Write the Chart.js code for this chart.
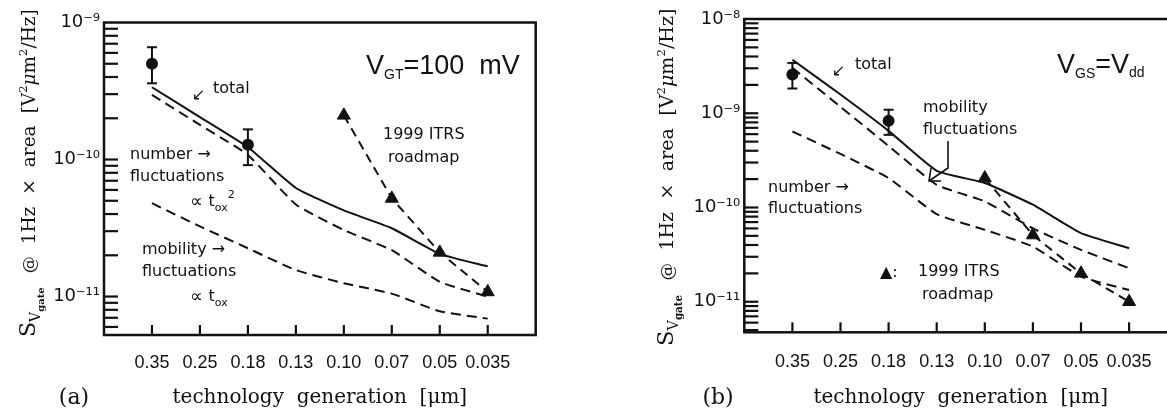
<!DOCTYPE html>
<html>
<head>
<meta charset="utf-8">
<script src="https://cdn.jsdelivr.net/npm/chart.js@4.4.1/dist/chart.umd.min.js"></script>
<style>
html, body { margin: 0; padding: 0; background: #fff; overflow: hidden; width: 1167px; height: 415px; }
.panel { position: absolute; top: 0; }
#wrapA { left: 0; }
#wrapB { left: 580px; }
</style>
</head>
<body>
<div id="wrapA" class="panel"><canvas id="chartA" width="560" height="415"></canvas></div>
<div id="wrapB" class="panel"><canvas id="chartB" width="620" height="415"></canvas></div>
<script>
const categories = ["0.35", "0.25", "0.18", "0.13", "0.10", "0.07", "0.05", "0.035"];

/* panel (a) : V_GT = 100 mV */
const yTicksA = [1e-11, 1e-10, 1e-9];
const totalA = [3.37e-10, 2.04e-10, 1.23e-10, 6.2e-11, 4.25e-11, 3.15e-11, 2.05e-11, 1.66e-11];
const numberA = [2.96e-10, 1.79e-10, 1.08e-10, 4.7e-11, 3.06e-11, 2.18e-11, 1.28e-11, 1.0e-11];
const mobilityA = [4.8e-11, 3.25e-11, 2.25e-11, 1.56e-11, 1.25e-11, 1.05e-11, 7.8e-12, 6.9e-12];
const itrsA = [null, null, null, null, 2.1e-10, 5.2e-11, 2.1e-11, 1.08e-11];
const measA = [5.0e-10, null, 1.28e-10, null, null, null, null, null];
const measLoA = [3.6e-10, null, 9.1e-11, null, null, null, null, null];
const measHiA = [6.6e-10, null, 1.66e-10, null, null, null, null, null];

/* panel (b) : V_GS = V_dd */
const yTicksB = [1e-11, 1e-10, 1e-9, 1e-8];
const totalB = [3.7e-9, 1.58e-9, 6.5e-10, 2.45e-10, 1.82e-10, 1.07e-10, 5.35e-11, 3.7e-11];
const mobilityB = [3.03e-9, 1.17e-9, 4.5e-10, 1.74e-10, 1.16e-10, 6.0e-11, 3.55e-11, 2.27e-11];
const numberB = [6.4e-10, 3.7e-10, 2.05e-10, 8.5e-11, 5.8e-11, 3.85e-11, 1.85e-11, 1.33e-11];
const itrsB = [null, null, null, null, 2.05e-10, 5.1e-11, 2.0e-11, 1.0e-11];
const measB = [2.57e-9, null, 8.3e-10, null, null, null, null, null];
const measLoB = [1.83e-9, null, 5.9e-10, null, null, null, null, null];
const measHiB = [3.42e-9, null, 1.09e-9, null, null, null, null, null];

const INK = "#111";
const SANS = "'DejaVu Sans', sans-serif";
const SERIF = "'DejaVu Serif', serif";

/* 10^n with unicode superscripts */
const SUP = {"-": "\u207B", "0": "\u2070", "1": "\u00B9", "2": "\u00B2", "3": "\u00B3", "4": "\u2074",
             "5": "\u2075", "6": "\u2076", "7": "\u2077", "8": "\u2078", "9": "\u2079"};
function decadeLabel(v) {
    const e = Math.log10(v);
    if (Math.abs(e - Math.round(e)) > 1e-6) return "";
    return "10" + String(Math.round(e)).split("").map(c => SUP[c]).join("");
}

/* draw a run of text pieces (sub/superscripts) left to right */
function rich(ctx, x, y, parts, family) {
    let cx = x;
    parts.forEach(p => {
        ctx.font = `${p.style || ""} ${p.w || "normal"} ${p.s}px ${p.f || family || SANS}`;
        ctx.fillText(p.t, cx, y + (p.dy || 0));
        cx += ctx.measureText(p.t).width + (p.gap || 0);
    });
    return cx;
}

function yTitle(ctx, bx, by, k) {
    ctx.save();
    ctx.translate(bx, by);
    ctx.rotate(-Math.PI / 2);
    ctx.textAlign = "left";
    ctx.textBaseline = "alphabetic";
    rich(ctx, 0, 0, [
        {t: "S", s: 22 * k},
        {t: "V", s: 14 * k, dy: 5 * k},
        {t: "gate", s: 10 * k, dy: 9 * k, w: "bold", gap: 14 * k},
        {t: "@", s: 17 * k, gap: 12 * k},
        {t: "1Hz", s: 18.5 * k, gap: 12 * k},
        {t: "\u00D7", s: 18.5 * k, gap: 12 * k},
        {t: "area", s: 18.5 * k, gap: 12 * k},
        {t: "[V", s: 18.5 * k},
        {t: "2", s: 11.5 * k, dy: -8 * k},
        {t: "\u03BC", s: 18.5 * k, style: "italic"},
        {t: "m", s: 18.5 * k},
        {t: "2", s: 11.5 * k, dy: -8 * k},
        {t: "/Hz]", s: 18.5 * k}
    ], SERIF);
    ctx.restore();
}

function line(ctx, x1, y1, x2, y2) {
    ctx.beginPath();
    ctx.moveTo(x1, y1);
    ctx.lineTo(x2, y2);
    ctx.stroke();
}

/* frame, inward ticks, error bars and the hand placed notes */
function makePaper(spec) {
    return {
        id: "paper",
        afterDatasetsDraw(chart) {
            const {ctx, chartArea: a, scales: {x, y}} = chart;
            ctx.save();
            ctx.strokeStyle = INK;
            ctx.lineWidth = 2.5;
            ctx.strokeRect(a.left, a.top, a.right - a.left, a.bottom - a.top);

            ctx.lineWidth = 2.2;
            categories.forEach((c, i) => {
                const px = x.getPixelForValue(i);
                line(ctx, px, a.bottom, px, a.bottom - 10);
            });
            for (let e = Math.floor(Math.log10(y.min)); e <= Math.ceil(Math.log10(y.max)); e++) {
                for (let k = 1; k <= 9; k++) {
                    const v = k * Math.pow(10, e);
                    if (v < y.min * 1.001 || v > y.max * 0.999) continue;
                    const py = y.getPixelForValue(v);
                    line(ctx, a.left, py, a.left + 14, py);
                }
            }

            ctx.lineWidth = 2;
            spec.lo.forEach((lo, i) => {
                if (lo == null) return;
                const px = x.getPixelForValue(i);
                const y1 = y.getPixelForValue(lo);
                const y2 = y.getPixelForValue(spec.hi[i]);
                line(ctx, px, y1, px, y2);
                line(ctx, px - 5, y1, px + 5, y1);
                line(ctx, px - 5, y2, px + 5, y2);
            });
            ctx.restore();
        },
        afterDraw(chart) {
            const ctx = chart.ctx;
            ctx.save();
            ctx.fillStyle = INK;
            ctx.strokeStyle = INK;
            yTitle(ctx, spec.titleX, spec.titleY, spec.titleK);
            ctx.textAlign = "center";
            ctx.textBaseline = "middle";
            ctx.font = `22px ${SERIF}`;
            ctx.fillText(spec.tag, spec.tagX, 398);
            ctx.textAlign = "left";
            spec.notes(ctx);
            ctx.restore();
        }
    };
}

function notesA(ctx) {
    ctx.textBaseline = "middle";
    ctx.font = `16px ${SANS}`;
    ctx.fillText("\u2199", 192, 96);
    ctx.fillText("total", 213, 89);
    ctx.fillText("number \u2192", 130, 155);
    ctx.fillText("fluctuations", 130, 177);
    rich(ctx, 190, 202, [{t: "\u221D ", s: 18}, {t: "t", s: 16}, {t: "ox", s: 11, dy: 6}, {t: "2", s: 11, dy: -7}]);
    ctx.font = `16px ${SANS}`;
    ctx.fillText("mobility \u2192", 142, 250);
    ctx.fillText("fluctuations", 142, 272);
    rich(ctx, 190, 297, [{t: "\u221D ", s: 18}, {t: "t", s: 16}, {t: "ox", s: 11, dy: 6}]);
    ctx.font = `16px ${SANS}`;
    ctx.fillText("1999 ITRS", 383, 135);
    ctx.fillText("roadmap", 388, 158);
    ctx.textBaseline = "alphabetic";
    rich(ctx, 366, 74, [{t: "V", s: 27}, {t: "GT", s: 14, dy: 5}, {t: "=100  mV", s: 27}], "'Liberation Sans', sans-serif");
}

function notesB(ctx) {
    ctx.textBaseline = "middle";
    ctx.font = `16px ${SANS}`;
    ctx.fillText("\u2199", 252, 72);
    ctx.fillText("total", 275, 65);
    ctx.fillText("mobility", 343, 108);
    ctx.fillText("fluctuations", 343, 130);
    ctx.fillText("number \u2192", 188, 188);
    ctx.fillText("fluctuations", 188, 209);
    ctx.fillText("\u25B2:", 300, 273);
    ctx.fillText("1999 ITRS", 338, 272);
    ctx.fillText("roadmap", 342, 295);
    ctx.lineWidth = 1.6;
    ctx.beginPath();
    ctx.moveTo(368, 141);
    ctx.lineTo(368, 168);
    ctx.lineTo(349, 181);
    ctx.moveTo(351, 168);
    ctx.lineTo(349, 181);
    ctx.lineTo(361, 181);
    ctx.stroke();
    ctx.textBaseline = "alphabetic";
    rich(ctx, 477, 73, [{t: "V", s: 27}, {t: "GS", s: 14, dy: 5}, {t: "=V", s: 27}, {t: "dd", s: 14, dy: 4}], "'Liberation Sans', sans-serif");
}

function curve(values, dashed) {
    return {
        data: values.map((v, i) => ({x: i, y: v})),
        borderColor: INK,
        borderWidth: 2,
        borderDash: dashed ? [10, 6] : [],
        pointRadius: 0,
        tension: 0.15,
        fill: false
    };
}

function roadmap(values) {
    return {
        data: values.map((v, i) => v == null ? null : {x: i, y: v}).filter(p => p),
        borderColor: INK,
        borderWidth: 2,
        borderDash: [9, 6],
        pointStyle: "triangle",
        pointRadius: 7.5,
        pointBackgroundColor: INK,
        pointBorderColor: INK,
        pointBorderWidth: 1,
        fill: false
    };
}

function measured(values) {
    return {
        data: values.map((v, i) => v == null ? null : {x: i, y: v}).filter(p => p),
        showLine: false,
        pointStyle: "circle",
        pointRadius: 6,
        pointBackgroundColor: INK,
        pointBorderColor: INK,
        pointBorderWidth: 0
    };
}

function makeChart(id, series, spec) {
    return new Chart(document.getElementById(id), {
        type: "line",
        data: {datasets: series},
        options: {
            responsive: false,
            animation: false,
            events: [],
            layout: {padding: spec.pad},
            plugins: {legend: {display: false}, tooltip: {enabled: false}},
            scales: {
                x: {
                    type: "linear", min: -1, max: 8,
                    grid: {display: false, drawTicks: false},
                    border: {display: false},
                    afterBuildTicks: s => { s.ticks = categories.map((c, i) => ({value: i})); },
                    afterFit: s => { s.height = spec.xH; },
                    ticks: {
                        autoSkip: false, maxRotation: 0, padding: spec.xPad, color: INK,
                        font: {family: "'Liberation Sans', sans-serif", size: 18},
                        callback: v => categories[v] ?? ""
                    },
                    title: {
                        display: true, text: "technology  generation  [\u03BCm]", color: INK,
                        font: {family: SERIF, size: 20}, padding: {top: 0, bottom: 5}
                    }
                },
                y: {
                    type: "logarithmic", min: spec.yMin, max: spec.yMax,
                    grid: {display: false, drawTicks: false},
                    border: {display: false},
                    afterBuildTicks: s => { s.ticks = spec.yTicks.map(v => ({value: v})); },
                    afterFit: s => { s.width = spec.yW; },
                    ticks: {
                        autoSkip: false, padding: 4, color: INK,
                        font: {family: SANS, size: 18},
                        callback: v => decadeLabel(v)
                    }
                }
            }
        },
        plugins: [makePaper(spec)]
    });
}

makeChart("chartA", [
    curve(totalA, false), curve(numberA, true), curve(mobilityA, true),
    roadmap(itrsA), measured(measA)
], {
    pad: {left: 0, right: 24.3, top: 22.5, bottom: 0},
    xH: 80, yW: 104, xPad: 17,
    yMin: 5.24e-12, yMax: 1e-9, yTicks: yTicksA,
    lo: measLoA, hi: measHiA,
    titleX: 35, titleY: 337, titleK: 1, tag: "(a)", tagX: 74,
    notes: notesA
});

makeChart("chartB", [
    curve(totalB, false), curve(mobilityB, true), curve(numberB, true),
    roadmap(itrsB), measured(measB)
], {
    pad: {left: 0, right: 22.8, top: 19, bottom: 0},
    xH: 82.7, yW: 164.3, xPad: 19,
    yMin: 4.74e-12, yMax: 1e-8, yTicks: yTicksB,
    lo: measLoB, hi: measHiB,
    titleX: 93, titleY: 346, titleK: 1.03, tag: "(b)", tagX: 138,
    notes: notesB
});
</script>
</body>
</html>
